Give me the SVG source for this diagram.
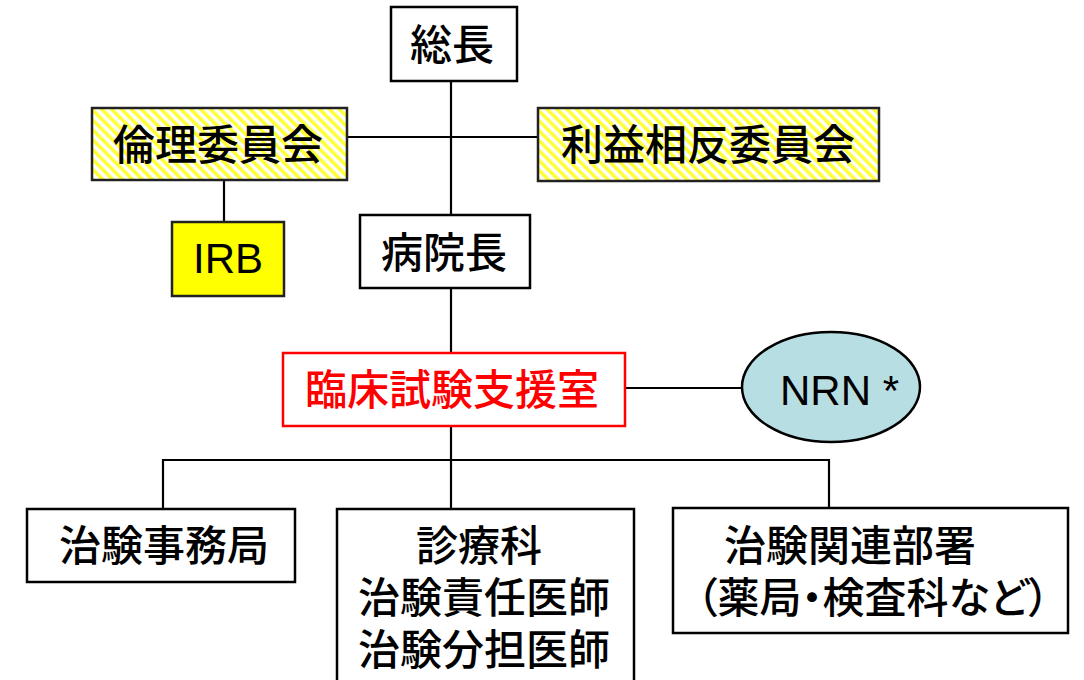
<svg xmlns="http://www.w3.org/2000/svg" width="1084" height="680" viewBox="0 0 1084 680">
<defs>
<pattern id="hatch" patternUnits="userSpaceOnUse" width="7" height="7" patternTransform="rotate(-45)">
<rect width="7" height="7" fill="#ffffff"/>
<rect width="3.5" height="7" fill="#ffff33"/>
</pattern>
<style>
.box{fill:#fff;stroke:#000;stroke-width:2.5}
.hatch{fill:url(#hatch);stroke:#222;stroke-width:2.5}
.line{stroke:#000;stroke-width:2.2;fill:none}
.jp{font-family:"Noto Sans CJK JP",sans-serif;font-size:42px;font-weight:500;fill:#000;text-anchor:middle}
.lat{font-family:"Liberation Sans","Noto Sans CJK JP",sans-serif;font-size:42px;fill:#000}
</style>
</defs>
<rect width="1084" height="680" fill="#fff"/>
<g id="connectors">
<line class="line" x1="451" y1="81" x2="451" y2="215"/>
<line class="line" x1="347" y1="137" x2="538" y2="137"/>
<line class="line" x1="224" y1="180" x2="224" y2="222"/>
<line class="line" x1="451" y1="288" x2="451" y2="353"/>
<line class="line" x1="625" y1="388" x2="743" y2="388"/>
<line class="line" x1="451" y1="426" x2="451" y2="509"/>
<polyline class="line" points="163,509 163,460 829,460 829,508"/>
</g>
<g id="president">
<rect class="box" x="391" y="7" width="126" height="74"/>
<text class="jp" x="452" y="60">総長</text>
</g>
<g id="ethics">
<rect class="hatch" x="92" y="108" width="255" height="72"/>
<text class="jp" x="218" y="160">倫理委員会</text>
</g>
<g id="coi">
<rect class="hatch" x="538" y="108" width="341" height="73"/>
<text class="jp" x="708" y="160">利益相反委員会</text>
</g>
<g id="irb">
<rect x="172" y="222" width="112" height="74" fill="#ffff00" stroke="#222" stroke-width="2.5"/>
<text class="lat" x="228" y="273" text-anchor="middle">IRB</text>
</g>
<g id="director">
<rect class="box" x="360" y="215" width="170" height="73"/>
<text class="jp" x="444" y="268">病院長</text>
</g>
<g id="support">
<rect x="283" y="353" width="342" height="73" fill="#fff" stroke="#ff0000" stroke-width="2.5"/>
<text class="jp" x="452" y="405" style="fill:#ff0000">臨床試験支援室</text>
</g>
<g id="nrn">
<ellipse cx="831" cy="387" rx="89" ry="55" fill="#b7dee2" stroke="#000" stroke-width="2.5"/>
<text class="lat" x="780" y="405">NRN *</text>
</g>
<g id="office">
<rect class="box" x="27" y="509" width="268" height="73"/>
<text class="jp" x="164" y="561">治験事務局</text>
</g>
<g id="clinical">
<rect class="box" x="337" y="509" width="297" height="185"/>
<text class="jp" x="479" y="561">診療科</text>
<text class="jp" x="484" y="613">治験責任医師</text>
<text class="jp" x="484" y="665">治験分担医師</text>
</g>
<g id="related">
<rect class="box" x="673" y="508" width="395" height="125"/>
<text class="jp" x="850" y="561">治験関連部署</text>
<text class="jp" x="873" y="613" style="font-feature-settings:'palt'">（薬局・検査科など）</text>
</g>
</svg>
